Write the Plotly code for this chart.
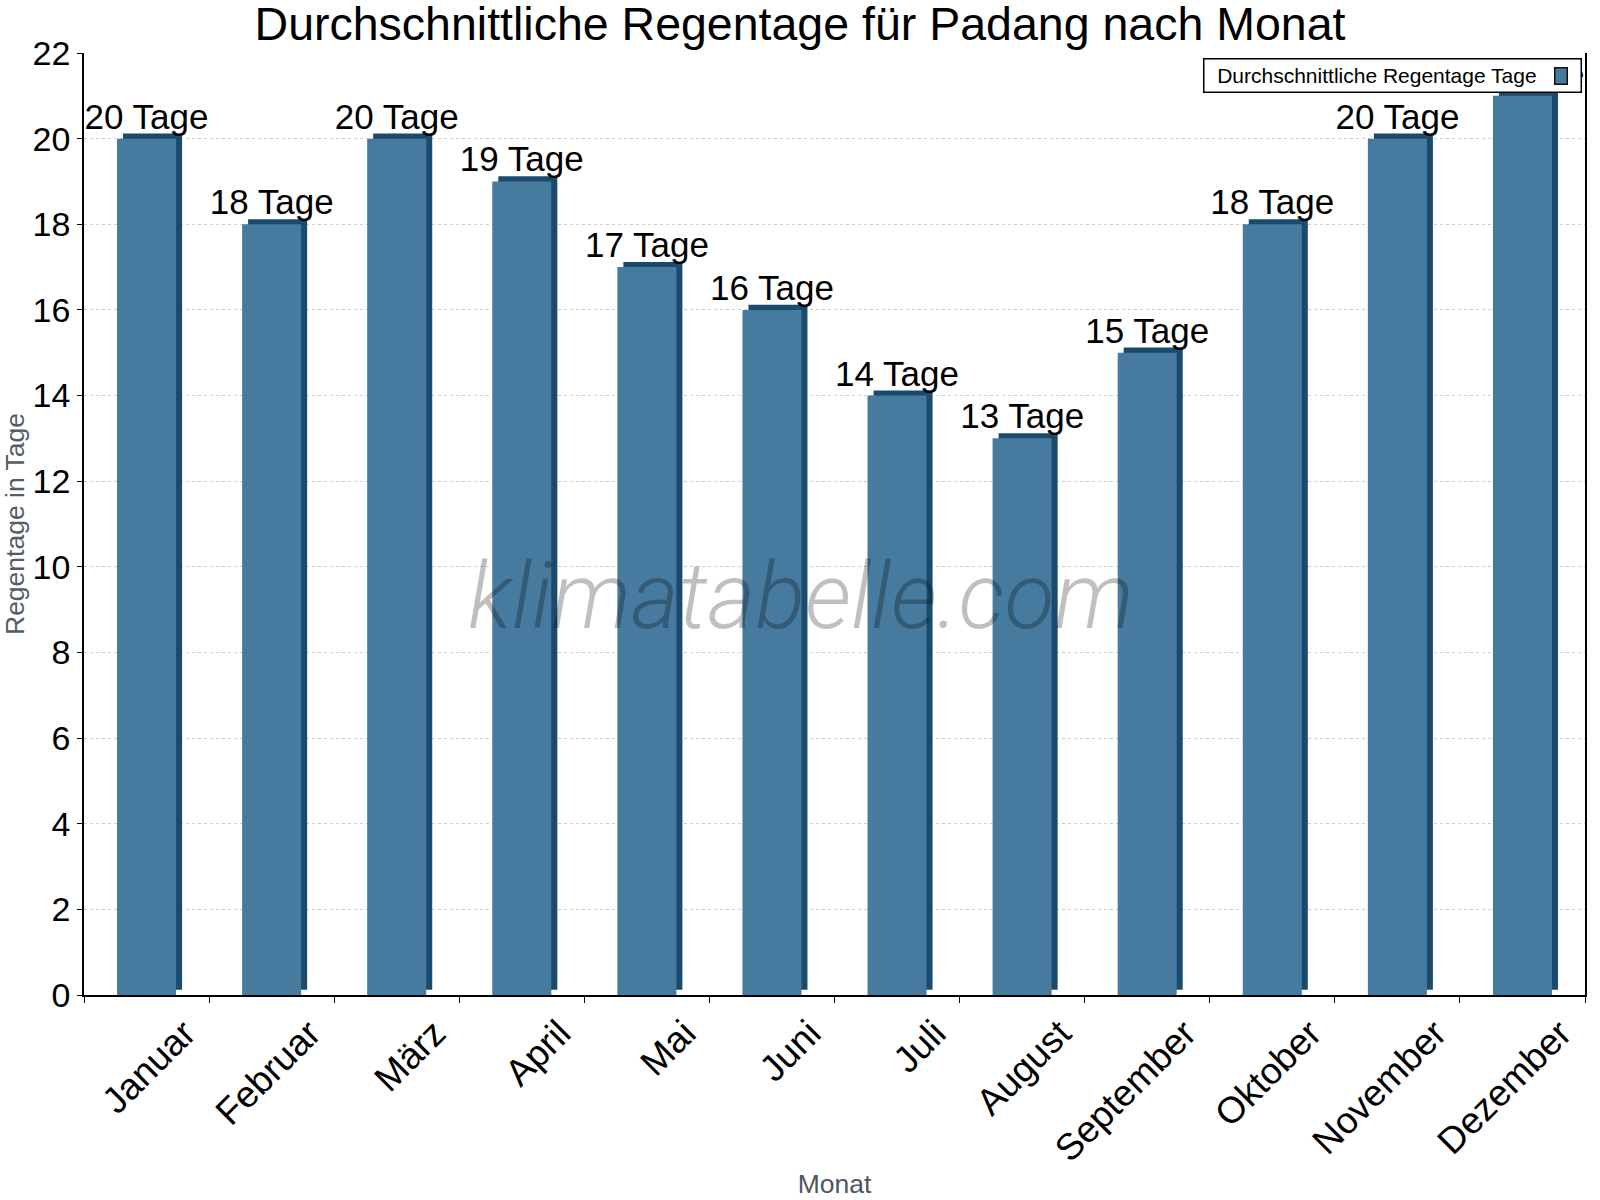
import plotly.graph_objects as go

# ── Data ──────────────────────────────────────────────────────────────────────
months = ["Januar", "Februar", "März", "April", "Mai", "Juni",
          "Juli", "August", "September", "Oktober", "November", "Dezember"]
rain_days = [20, 18, 20, 19, 17, 16, 14, 13, 15, 18, 20, 21]
labels = [f"{v} Tage" for v in rain_days]

FRONT = "#467a9e"
SIDE = "#1a4b6e"
FONT = "Liberation Sans, Arial, sans-serif"

BW = 0.472     # front face width (category units)
SW = 0.048     # depth of the fake 3-D side
LIFT = 0.12    # how far the back slab sits above the front (y units)

fig = go.Figure()

# dark back slab -> gives the side and top edge
fig.add_trace(go.Bar(
    x=months, y=rain_days, base=LIFT,
    width=BW, offset=-BW / 2 + SW,
    marker=dict(color=SIDE, line=dict(width=0)),
    showlegend=False, hoverinfo="skip",
))

# front face with value labels
fig.add_trace(go.Bar(
    x=months, y=rain_days,
    width=BW, offset=-BW / 2,
    marker=dict(color=FRONT, line=dict(width=0)),
    text=labels, textposition="outside", constraintext="none",
    textfont=dict(family=FONT, size=35, color="black"),
    cliponaxis=True,
    name="Durchschnittliche Regentage Tage", showlegend=False,
))

# watermark
fig.add_annotation(
    x=0.478, y=0.4235, xref="paper", yref="paper",
    text="klimatabelle.com", showarrow=False,
    font=dict(family="Roboto, Liberation Sans, sans-serif", size=92,
              color="rgba(0,0,0,0.25)", style="italic", weight=300),
)

# legend box (symbol on the right, as in the original)
fig.add_annotation(
    x=0.7455, y=0.9947, xref="paper", yref="paper",
    xanchor="left", yanchor="top",
    text="&nbsp;&nbsp;Durchschnittliche Regentage Tage", showarrow=False,
    align="left", width=374, height=30,
    font=dict(family=FONT, size=21, color="black"),
    bgcolor="white", bordercolor="black", borderwidth=1.5, borderpad=1,
)
fig.add_annotation(
    x=0.9794, y=0.9851, xref="paper", yref="paper",
    xanchor="left", yanchor="top",
    text=" ", showarrow=False, width=11, height=15,
    font=dict(size=10),
    bgcolor=FRONT, bordercolor="#111111", borderwidth=1.5, borderpad=0,
)

fig.update_layout(
    width=1600, height=1200,
    barmode="overlay",
    paper_bgcolor="white", plot_bgcolor="white",
    margin=dict(l=84, r=15, t=53, b=205),
    font=dict(family=FONT, color="black"),
    title=dict(
        text="Durchschnittliche Regentage für Padang nach Monat",
        x=0.5, xanchor="center", y=0.994, yanchor="top",
        font=dict(family=FONT, size=46.5, color="black"),
    ),
    showlegend=False,
    xaxis=dict(
        type="category",
        showline=True, linecolor="black", linewidth=1.5,
        ticks="outside", ticklen=6, tickcolor="black", tickson="boundaries",
        tickangle=-45, ticklabelshift=38,
        tickfont=dict(family=FONT, size=37, color="black"),
        showgrid=False, automargin=False,
        title=dict(text="Monat", standoff=6,
                   font=dict(family=FONT, size=26.5, color="#4e5661")),
    ),
    yaxis=dict(
        range=[0, 22], dtick=2,
        showline=True, linecolor="black", linewidth=1.5, mirror=True,
        ticks="outside", ticklen=5, tickcolor="black",
        tickfont=dict(family=FONT, size=34, color="black"),
        showgrid=True, gridcolor="#cccccc", griddash="dot", gridwidth=1,
        zeroline=False, automargin=False,
        title=dict(text="Regentage in Tage", standoff=0,
                   font=dict(family=FONT, size=26.5, color="#555b63")),
    ),
)

# drop the browser's default 8px body margin so the figure sits at 0,0
fig.write_html("out.html", config={"displayModeBar": False},
               post_script="document.body.style.margin='0px';")
